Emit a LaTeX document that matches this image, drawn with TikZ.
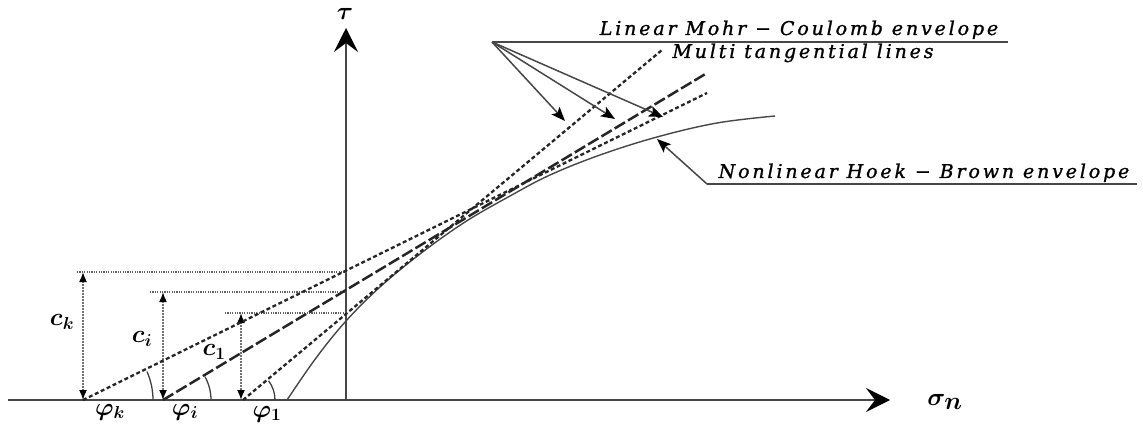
\documentclass[tikz,border=0pt]{standalone}
\usepackage{amsmath,bm}
\usepackage{fontspec}
\newfontfamily\callfont[LetterSpace=15,FakeBold=1.2]{DejaVu Serif}
\usetikzlibrary{arrows.meta}
\begin{document}
\begin{tikzpicture}[x=1pt,y=-1pt,
  axis/.style={line width=2pt,draw=black!72,-{Stealth[length=24pt,width=24pt,inset=9pt,color=black]}},
  tangdot/.style={line width=2.3pt,draw=black!85,dash pattern=on 4pt off 2.6pt},
  tanglong/.style={line width=2.5pt,draw=black!85,dash pattern=on 12pt off 3.5pt},
  hbcurve/.style={line width=1.4pt,draw=black!72},
  guide/.style={line width=1.3pt,draw=black!62,dash pattern=on 1.2pt off 1.2pt},
  dimarrow/.style={line width=1.6pt,draw=black!55,dash pattern=on 1.5pt off 1.5pt,
     {Latex[length=10pt,width=8pt,color=black]}-{Latex[length=10pt,width=8pt,color=black]}},
  anglearc/.style={line width=1.3pt,draw=black!75},
  callline/.style={line width=1.5pt,draw=black!72},
  callarrow/.style={callline,-{Stealth[length=14pt,width=11pt,inset=3pt,color=black]}},
  sym/.style={inner sep=0pt,font=\fontsize{27}{30}\selectfont\boldmath},
  calltext/.style={inner sep=0pt,anchor=base,font=\fontsize{19}{22}\selectfont\callfont\itshape}
]
\useasboundingbox (0,0) rectangle (1143,425);

% coordinates
\coordinate (xs) at (8,400);
\coordinate (xe) at (890,400);
\coordinate (ys) at (346,401);
\coordinate (ye) at (346,28);

\coordinate (k0) at (83,400);  \coordinate (k1) at (707,93);
\coordinate (i0) at (163,400); \coordinate (i1) at (707,73);
\coordinate (o0) at (243,400); \coordinate (o1) at (662,50);

\coordinate (ckt) at (83,272);  \coordinate (cit) at (163,292);  \coordinate (cot) at (241,313);
\coordinate (ckl) at (77,272);  \coordinate (cil) at (150,292);  \coordinate (col) at (225,313);
\coordinate (ckr) at (346,272); \coordinate (cir) at (346,292);  \coordinate (cor) at (346,313);
\coordinate (ckb) at (83,400);  \coordinate (cib) at (163,400);  \coordinate (cob) at (241,400);

% axes
\draw[axis] (xs) -- (xe);
\draw[axis] (ys) -- (ye);
\node[sym,font=\fontsize{29}{30}\selectfont\boldmath] (tau) at (345,14) {$\tau$};
\node[sym,font=\fontsize{33}{36}\selectfont\boldmath] (sig) at (945,402) {$\sigma_n$};

% guides
\draw[guide] (ckl) -- (ckr);
\draw[guide] (cil) -- (cir);
\draw[guide] (col) -- (cor);

% dimension arrows
\draw[dimarrow] (ckt) -- (ckb);
\draw[dimarrow] (cit) -- (cib);
\draw[dimarrow] (cot) -- (cob);

% Hoek-Brown curve
\draw[hbcurve] plot[smooth,tension=0.6] coordinates {(287,400) (316,358) (346,321) (380,287) (420,254) (465,222) (510,196) (550,175) (600,155) (657,137) (717,123) (775,116)};
\coordinate (hbpt) at (657,139);

% tangent lines
\draw[tangdot] (k0) -- (k1);
\draw[tanglong] (i0) -- (i1);
\draw[tangdot] (o0) -- (o1);

% angle arcs
\draw[anglearc] (153,400) arc[start angle=0,end angle=-24,radius=70];
\draw[anglearc] (211,400) arc[start angle=0,end angle=-29,radius=48];
\draw[anglearc] (275,400) arc[start angle=0,end angle=-37,radius=32];

% symbol labels
\node[sym] (ck) at (62,322) {$c_k$};
\node[sym] (ci) at (142,339) {$c_i$};
\node[sym] (c1) at (214,352) {$c_1$};
\node[sym] (pk) at (110,412) {$\varphi_k$};
\node[sym] (pi) at (185,412) {$\varphi_i$};
\node[sym] (p1) at (267,414) {$\varphi_1$};

% top callout
\coordinate (hub) at (492,42);
\coordinate (hubr) at (1008,42);
\coordinate (t1) at (565,121);
\coordinate (t2) at (615,119);
\coordinate (t3) at (663,117);
\draw[callline] (hub) -- (hubr);
\draw[callarrow] (hub) -- (t1);
\draw[callarrow] (hub) -- (t2);
\draw[callarrow] (hub) -- (t3);
\node[calltext] (lmc) at (799,35) {Linear Mohr − Coulomb envelope};
\node[calltext] (mtl) at (803,58) {Multi tangential lines};

% bottom callout
\coordinate (bl) at (707,184);
\coordinate (br) at (1137,184);
\draw[callline] (br) -- (bl);
\draw[callarrow] (bl) -- (hbpt);
\node[calltext] (nhb) at (924,178) {Nonlinear Hoek − Brown envelope};
\end{tikzpicture}
\end{document}
